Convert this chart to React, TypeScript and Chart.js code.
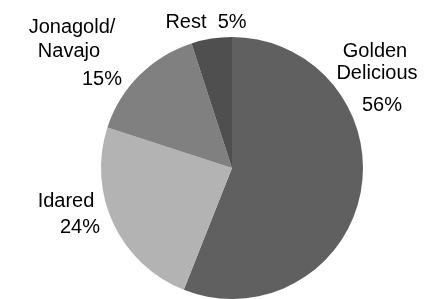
import React, { useEffect, useRef } from "react";
import { Chart, registerables } from "chart.js";

Chart.register(...registerables);

const categories = ["Golden Delicious", "Idared", "Jonagold/Navajo", "Rest"];
const values = [56, 24, 15, 5];
const colors = ["#606060", "#b3b3b3", "#808080", "#4f4f4f"];

// label lines for each slice (text only), with offsets from pie center (dx, dy baseline)
const labelLines: string[][] = [
  ["Golden", "Delicious", "56%"],
  ["Idared", "24%"],
  ["Jonagold/", "Navajo", "15%"],
  ["Rest  5%"],
];
const labelOffsets: [number, number][][] = [
  [[143, -111], [145, -89], [150, -57]],
  [[-166, 39], [-152, 65]],
  [[-160, -135], [-163, -111], [-130, -83]],
  [[-26, -140]],
];

const labelPlugin = {
  id: "sliceLabels",
  afterDatasetsDraw(chart: any) {
    const meta = chart.getDatasetMeta(0);
    const arc = meta.data[0];
    if (!arc) return;
    const cx = arc.x;
    const cy = arc.y;
    const ctx = chart.ctx;
    ctx.save();
    ctx.fillStyle = "#000";
    ctx.font = "20px 'Liberation Sans', Arial, sans-serif";
    ctx.textAlign = "center";
    ctx.textBaseline = "alphabetic";
    labelLines.forEach((lines, i) => {
      lines.forEach((t, j) => {
        const [dx, dy] = labelOffsets[i][j];
        ctx.fillText(t, cx + dx, cy + dy);
      });
    });
    ctx.restore();
  },
};

export default function App() {
  const ref = useRef<HTMLCanvasElement>(null);
  useEffect(() => {
    if (!ref.current) return;
    const chart = new Chart(ref.current, {
      type: "pie",
      data: {
        labels: categories,
        datasets: [
          {
            data: values,
            backgroundColor: colors,
            borderColor: colors,
            borderWidth: 0,
          },
        ],
      },
      options: {
        animation: false,
        responsive: false,
        maintainAspectRatio: false,
        layout: { padding: { top: 37, bottom: 0, left: 101, right: 61 } },
        plugins: {
          legend: { display: false },
          tooltip: { enabled: false },
        },
      },
      plugins: [labelPlugin],
    });
    return () => chart.destroy();
  }, []);
  return (
    <div style={{ position: "absolute", left: 0, top: 0, width: 424, height: 299, background: "#fff" }}>
      <canvas ref={ref} width={424} height={299} style={{ width: 424, height: 299 }} />
    </div>
  );
}
